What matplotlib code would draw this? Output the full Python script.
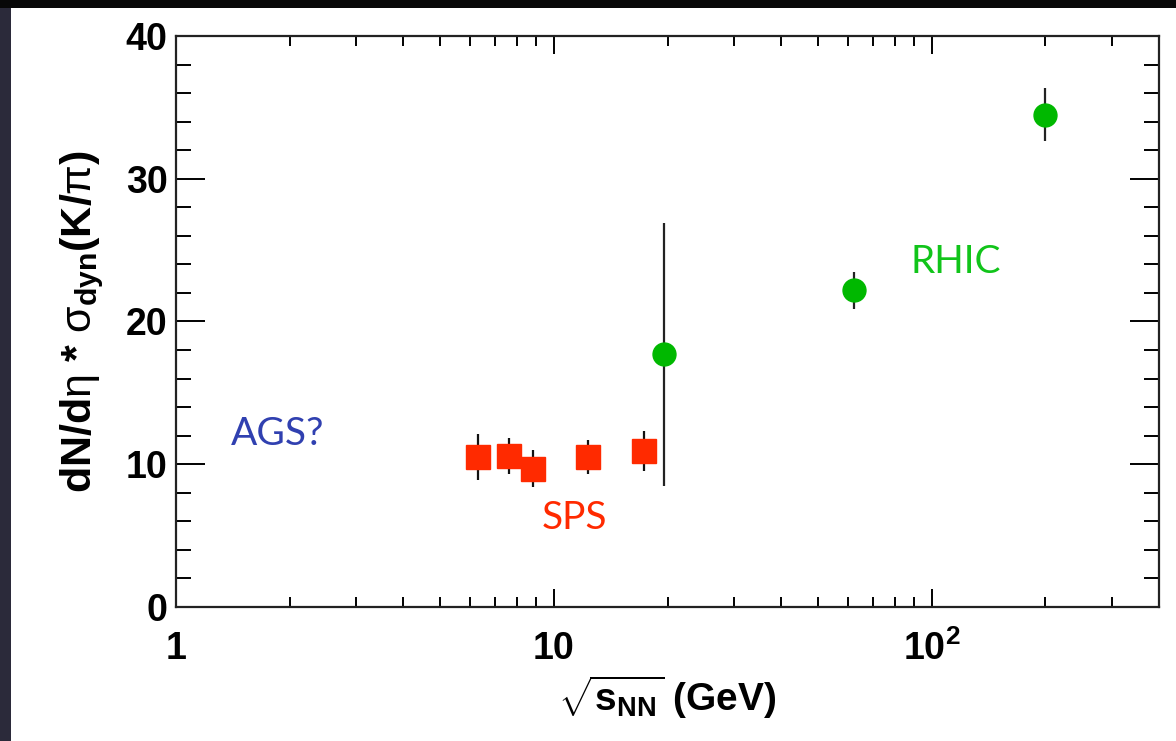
import matplotlib
matplotlib.use('Agg')
import matplotlib.pyplot as plt
from matplotlib.patches import Rectangle
from matplotlib.ticker import FixedLocator, FixedFormatter, MultipleLocator

plt.rcParams['mathtext.fontset'] = 'custom'
plt.rcParams['mathtext.rm'] = 'Liberation Sans'
plt.rcParams['mathtext.bf'] = 'Liberation Sans:bold'
plt.rcParams['mathtext.it'] = 'Liberation Sans:italic'

# SPS points
sps_energia = [6.3, 7.6, 8.8, 12.3, 17.3]
sps_valor = [10.5, 10.6, 9.7, 10.5, 10.9]
sps_erro = [1.6, 1.25, 1.3, 1.2, 1.4]

# RHIC points
rhic_energia = [19.6, 62.4, 200.0]
rhic_valor = [17.7, 22.2, 34.5]
rhic_erro = [9.2, 1.3, 1.85]

x_ticks = [1, 10, 100]
x_tick_labels = ['1', '10', r'$\mathbf{10^2}$']
y_ticks = [0, 10, 20, 30, 40]

fig = plt.figure(figsize=(11.76, 7.41), dpi=100, facecolor='white')

# molduras escuras do slide
fig.patches.append(Rectangle((0, 0), 11 / 1176, 1, transform=fig.transFigure,
                             facecolor='#2b2a3a', edgecolor='none', zorder=0))
fig.patches.append(Rectangle((0, 1 - 8 / 741), 1, 8 / 741, transform=fig.transFigure,
                             facecolor='#080808', edgecolor='none', zorder=0))

ax = fig.add_axes([176 / 1176, 134 / 741, 983 / 1176, 571 / 741])
ax.set_xscale('log')
ax.set_xlim(1, 400)
ax.set_ylim(0, 40)

ax.errorbar(sps_energia, sps_valor, yerr=sps_erro, fmt='s', color='#ff2a00',
            ms=17, mec='#ff2a00', ecolor='#111111', elinewidth=1.6, capsize=0)
ax.errorbar(rhic_energia, rhic_valor, yerr=rhic_erro, fmt='o', color='#00b800',
            ms=16.5, mec='#00b800', ecolor='#222222', elinewidth=1.6, capsize=0)

ax.text(1.4, 12.1, 'AGS?', color='#3040b0', fontsize=28, family='Lato', va='center', ha='left')
ax.text(9.3, 6.2, 'SPS', color='#ff2a00', fontsize=28, family='Lato', va='center', ha='left')
ax.text(88, 24.2, 'RHIC', color='#11c41a', fontsize=28, family='Lato', va='center', ha='left')

for lado in ax.spines.values():
    lado.set_linewidth(1.6)
    lado.set_color('#222222')

ax.xaxis.set_major_locator(FixedLocator(x_ticks))
ax.xaxis.set_major_formatter(FixedFormatter(x_tick_labels))
ax.yaxis.set_major_locator(FixedLocator(y_ticks))
ax.yaxis.set_minor_locator(MultipleLocator(2))

ax.tick_params(axis='x', which='major', direction='in', length=13, width=1.4,
               top=True, pad=17, labelsize=27)
ax.tick_params(axis='x', which='minor', direction='in', length=7, width=1.4, top=True)
ax.tick_params(axis='y', which='major', direction='in', length=21, width=1.4,
               right=True, pad=6, labelsize=27)
ax.tick_params(axis='y', which='minor', direction='in', length=11, width=1.4, right=True)
for lab in ax.get_xticklabels() + ax.get_yticklabels():
    lab.set_fontweight('bold')
    lab.set_family('Liberation Sans')

ax.set_xlabel(r'$\sqrt{\mathbf{s}_{\mathbf{NN}}}$ (GeV)', fontsize=28,
              fontweight='bold', family='Liberation Sans', labelpad=4)
ax.set_ylabel(r'$\mathbf{dN/d}\mathrm{\eta}\ \mathbf{*}\ \mathrm{\sigma}_{\mathbf{dyn}}\mathbf{(K/}\mathrm{\pi}\mathbf{)}$',
              fontsize=31, labelpad=14)

fig.savefig('out.png', dpi=100, facecolor=fig.get_facecolor())
